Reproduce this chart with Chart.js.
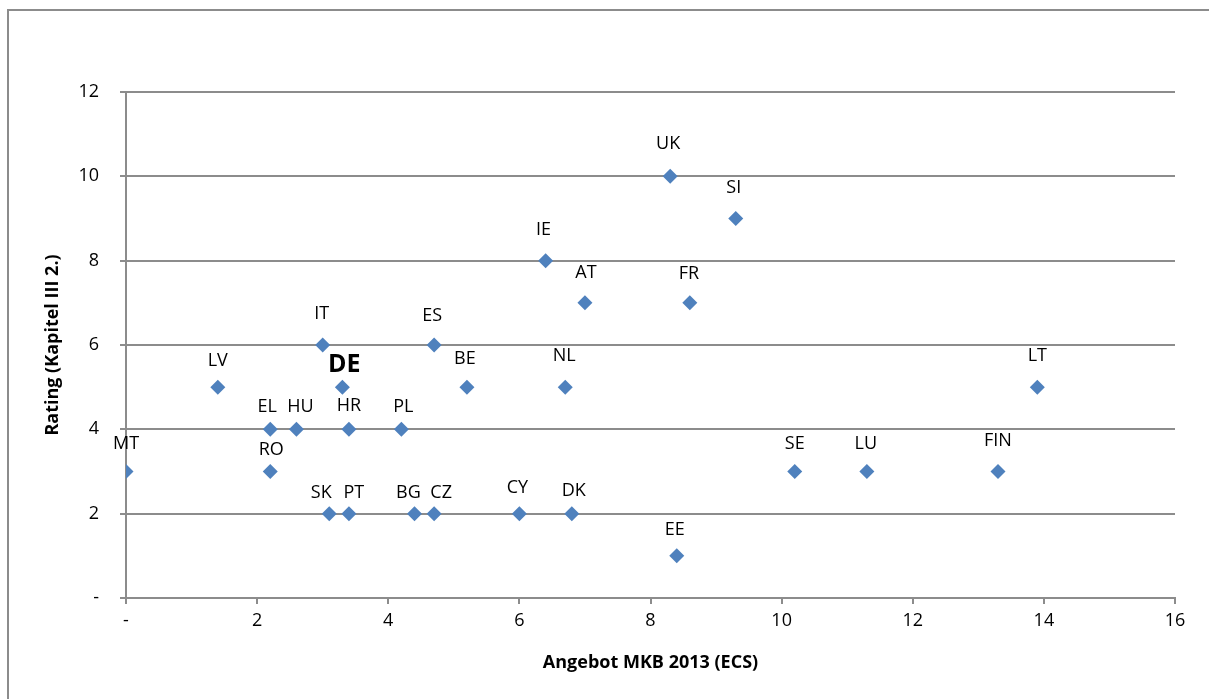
<!DOCTYPE html>
<html><head><meta charset="utf-8">
<script src="https://cdn.jsdelivr.net/npm/chart.js@4"></script>
<style>html,body{margin:0;padding:0;background:#fff}#wrap{width:1209px;height:699px;position:relative}</style>
</head><body><div id="wrap"><canvas id="c" width="1209" height="699"></canvas></div>
<script>
const countries = ["MT","LV","EL","RO","HU","IT","DE","SK","PT","HR","PL","BG","CZ","ES","BE","CY","IE","NL","DK","AT","UK","EE","FR","SI","SE","LU","FIN","LT"];
const offerMKB = [0,1.4,2.2,2.2,2.6,3.0,3.3,3.1,3.4,3.4,4.2,4.4,4.7,4.7,5.2,6.0,6.4,6.7,6.8,7.0,8.3,8.4,8.6,9.3,10.2,11.3,13.3,13.9];
const rating =   [3,5,4,3,4,6,5,2,2,4,4,2,2,6,5,2,8,5,2,7,10,1,7,9,3,3,3,5];
const xTicks = [0,2,4,6,8,10,12,14,16];
const yTicks = [0,2,4,6,8,10,12];

const FONT = "'Open Sans', 'Liberation Sans', sans-serif";
const points = offerMKB.map((x,i)=>({x:x,y:rating[i]}));

// label nudges in pixels (style only): [dx, dy] from the marker centre
const labelNudge = {
  MT:[0,-28], RO:[1,-22], LV:[0,-26], IT:[-1,-31], ES:[-2,-29], DE:[2,-22], BE:[-2,-28],
  EL:[-3,-22], HU:[4,-22], HR:[0,-23], PL:[2,-22], SK:[-8,-21], PT:[5,-21], BG:[-6,-21],
  CZ:[7,-21], CY:[-2,-26], DK:[2,-23], EE:[-2,-26], UK:[-2,-32], SI:[-2,-31], IE:[-2,-31],
  AT:[1,-30], FR:[-1,-29], NL:[-1,-31], LT:[0,-31], SE:[0,-28], LU:[-1,-28], FIN:[0,-31]
};

const labelPlugin = {
  id:'labels',
  afterDatasetsDraw(chart){
    const ctx = chart.ctx;
    const meta = chart.getDatasetMeta(0);
    ctx.save();
    ctx.textAlign='center';
    ctx.textBaseline='middle';
    ctx.fillStyle='#000';
    meta.data.forEach((el,i)=>{
      const name = countries[i];
      const n = labelNudge[name] || [0,-29];
      ctx.font = (name==='DE') ? ("bold 25px " + FONT) : ("18px " + FONT);
      ctx.fillText(name, el.x + n[0], el.y + n[1]);
    });
    ctx.restore();
  },
  beforeDraw(chart){
    const ctx = chart.ctx;
    ctx.save();
    ctx.fillStyle='#fff';
    ctx.fillRect(0,0,chart.width,chart.height);
    ctx.strokeStyle='#8c8c8c';
    ctx.lineWidth=2;
    ctx.strokeRect(8,10,1260,760);
    ctx.restore();
  }
};

new Chart(document.getElementById('c'),{
  type:'scatter',
  data:{datasets:[{
    data:points,
    pointStyle:'rectRot',
    pointRadius:7.5,
    pointHoverRadius:7.5,
    backgroundColor:'#4F81BD',
    borderColor:'#4F81BD',
    borderWidth:0
  }]},
  options:{
    responsive:false,
    animation:false,
    layout:{padding:{top:92,right:34,left:42,bottom:25}},
    plugins:{legend:{display:false},tooltip:{enabled:false}},
    scales:{
      x:{
        type:'linear',min:0,max:16,
        afterBuildTicks(s){ s.ticks = xTicks.map(v=>({value:v})); },
        ticks:{callback:v=>v===0?'-':String(v),color:'#000',font:{family:FONT,size:18},padding:6,maxRotation:0},
        grid:{drawOnChartArea:false,drawTicks:true,tickLength:6,color:'#8c8c8c',lineWidth:2},
        border:{color:'#8c8c8c',width:2},
        title:{display:true,text:'Angebot MKB 2013 (ECS)',color:'#000',font:{family:FONT,size:18,weight:'bold'},padding:{top:0,bottom:0}},
        afterFit(s){ s.height = 76; }
      },
      y:{
        type:'linear',min:0,max:12,
        afterBuildTicks(s){ s.ticks = yTicks.map(v=>({value:v})); },
        ticks:{callback:v=>v===0?'-':String(v),color:'#000',font:{family:FONT,size:18},padding:21},
        grid:{drawOnChartArea:true,drawTicks:true,tickLength:6,color:'#8c8c8c',lineWidth:2},
        border:{color:'#8c8c8c',width:2},
        title:{display:true,text:'Rating (Kapitel III 2.)',color:'#000',font:{family:FONT,size:18,weight:'bold'},padding:{top:0,bottom:0}},
        afterFit(s){ s.width = 84; }
      }
    }
  },
  plugins:[labelPlugin]
});
</script>
</body></html>
